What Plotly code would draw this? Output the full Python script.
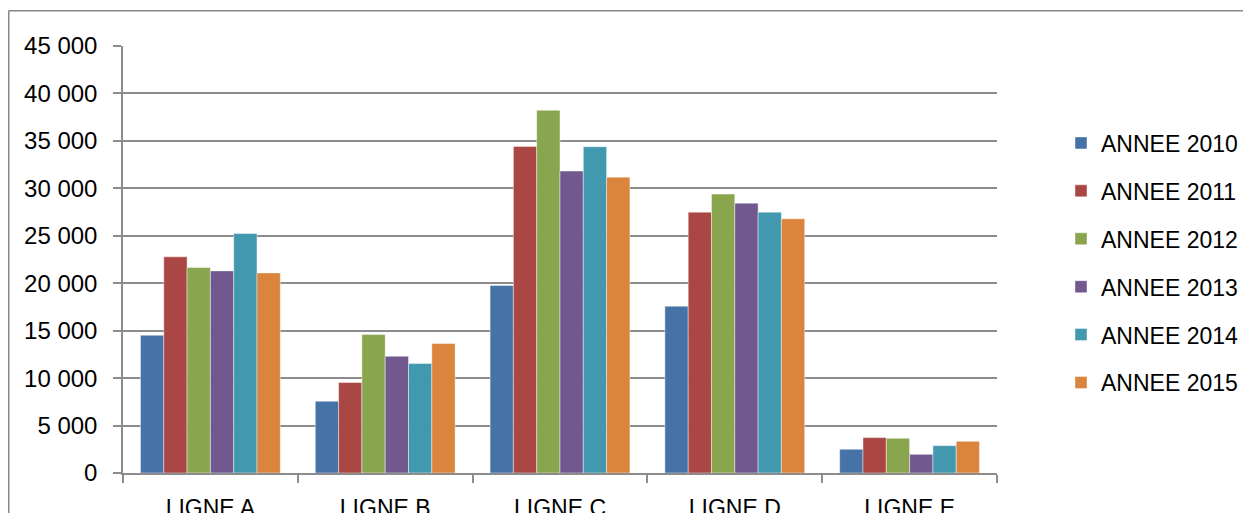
import plotly.graph_objects as go

categories = ["LIGNE A", "LIGNE B", "LIGNE C", "LIGNE D", "LIGNE E"]
series_names = ["ANNEE 2010", "ANNEE 2011", "ANNEE 2012", "ANNEE 2013", "ANNEE 2014", "ANNEE 2015"]
annee_2010 = [14520, 7560, 19760, 17580, 2500]
annee_2011 = [22780, 9530, 34420, 27490, 3730]
annee_2012 = [21660, 14590, 38220, 29390, 3660]
annee_2013 = [21300, 12300, 31820, 28440, 1970]
annee_2014 = [25240, 11530, 34380, 27490, 2880]
annee_2015 = [21090, 13640, 31180, 26790, 3340]
y_tickvals = [0, 5000, 10000, 15000, 20000, 25000, 30000, 35000, 40000, 45000]

series_values = [annee_2010, annee_2011, annee_2012, annee_2013, annee_2014, annee_2015]
colors = ["#4572A7", "#AA4643", "#89A54E", "#71588F", "#4198AF", "#DB843D"]

FONT = "Liberation Sans"
FS = 23
W, H = 1251, 513
# the page body adds an 8px offset, so figure coords = screen coords - 8
OFF = 8
L, T = 123 - OFF, 46 - OFF
R = W - (997 - OFF)
B = H - (473 - OFF)
pw = W - L - R
ph = H - T - B

fig = go.Figure()
for name, vals, col in zip(series_names, series_values, colors):
    fig.add_trace(go.Bar(
        x=categories, y=vals, name=name, legendgroup=name,
        marker=dict(color=col, line=dict(width=0.8, color="rgba(255,255,255,0.55)")),
    ))

grid_col = "#8c8c8c"
fig.update_layout(
    width=W, height=H,
    margin=dict(l=L, r=R, t=T, b=B, pad=0, autoexpand=False),
    paper_bgcolor="white", plot_bgcolor="white",
    barmode="group", bargap=0.2, bargroupgap=0,
    separators=", ",
    font=dict(family=FONT, size=FS, color="black"),
    showlegend=True,
    legend=dict(
        x=(1053 - L) / pw, xanchor="left",
        y=(H - B - (263 - OFF)) / ph, yanchor="middle",
        font=dict(family=FONT, size=FS, color="black"),
        tracegroupgap=15,
        bgcolor="rgba(0,0,0,0)",
    ),
    xaxis=dict(
        showgrid=False, showline=True, linecolor=grid_col, linewidth=1.5,
        ticks="outside", tickson="boundaries", ticklen=8, tickcolor=grid_col, tickwidth=1.5,
        tickfont=dict(family=FONT, size=FS, color="black"),
        ticklabelstandoff=14, automargin=False,
    ),
    yaxis=dict(
        range=[0, 45000], tickvals=y_tickvals, tickformat=",d",
        showgrid=True, gridcolor=grid_col, gridwidth=1.5,
        showline=True, linecolor=grid_col, linewidth=1.5,
        ticks="outside", ticklen=8, tickcolor=grid_col, tickwidth=1.5,
        tickfont=dict(family=FONT, size=24, color="black"),
        ticklabelstandoff=11, automargin=False,
        zeroline=False,
    ),
)

# outer chart border (extends past the right and bottom of the image)
bx = 0.75 - L
by = (H - B) - 2.7
fig.add_shape(type="line", xref="paper", yref="paper",
              x0=bx / pw, x1=bx / pw,
              y0=by / ph, y1=-B / ph - 0.1,
              line=dict(color="#888888", width=1.5), layer="below")
fig.add_shape(type="line", xref="paper", yref="paper",
              x0=bx / pw, x1=(W + 10 - L) / pw,
              y0=by / ph, y1=by / ph,
              line=dict(color="#888888", width=1.5), layer="below")

fig.write_html("out.html")
